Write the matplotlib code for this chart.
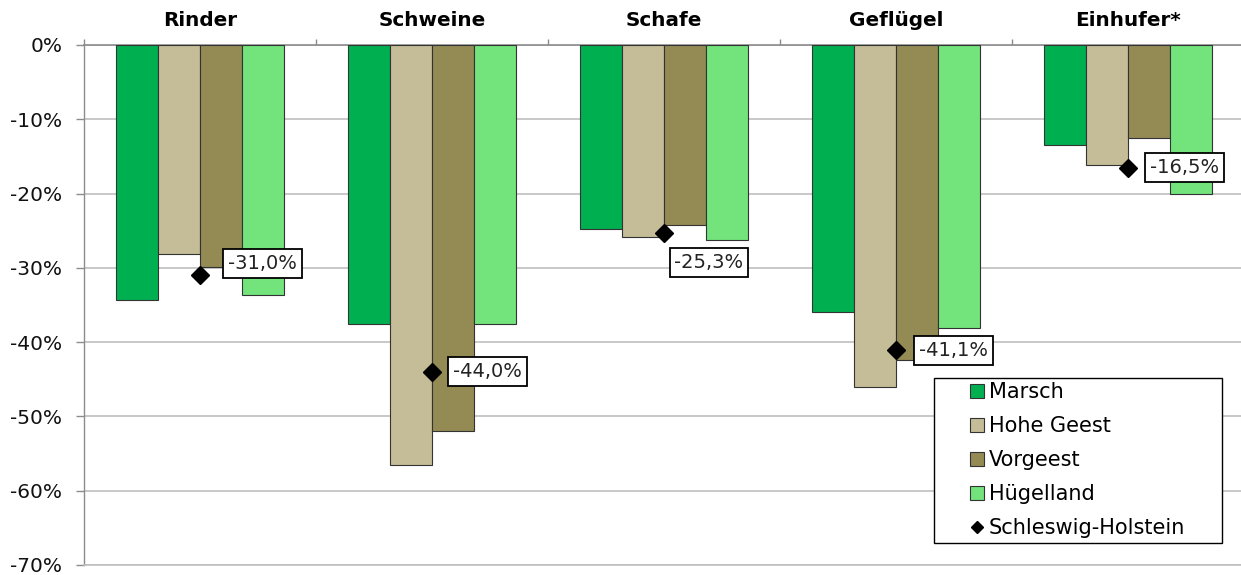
import numpy as np
import matplotlib
matplotlib.use("Agg")
import matplotlib.pyplot as plt
from matplotlib.patches import Rectangle
from matplotlib.ticker import FixedLocator, FuncFormatter

# ---- data ----
categories = ["Rinder", "Schweine", "Schafe", "Geflügel", "Einhufer*"]
series_names = ["Marsch", "Hohe Geest", "Vorgeest", "Hügelland"]
marsch = [-34.3, -37.6, -24.8, -36.0, -13.5]
hohe_geest = [-28.2, -56.6, -25.9, -46.1, -16.1]
vorgeest = [-29.9, -52.0, -24.2, -42.4, -12.5]
huegelland = [-33.6, -37.6, -26.2, -38.1, -20.0]
sh_name = "Schleswig-Holstein"
schleswig_holstein = [-31.0, -44.0, -25.3, -41.1, -16.5]
yticks = [0, -10, -20, -30, -40, -50, -60, -70]
ytick_labels = ["0%", "-10%", "-20%", "-30%", "-40%", "-50%", "-60%", "-70%"]

# ---- style ----
colors = ["#00B050", "#C4BD97", "#948A54", "#72E47B"]
grid_col = "#BFBFBF"
axis_col = "#8C8C8C"
edge_col = "#333333"
# annotation offsets (points) relative to diamond marker
label_offsets = [(20, 8.5), (15, 0), (7.5, -21.5), (16.5, 0), (16, 0)]

W, H = 1241, 575
fig = plt.figure(figsize=(W / 100, H / 100), dpi=100)
plt.rcParams["font.family"] = ["DejaVu Sans"]

ax_left, ax_right = 84, 1244
ax_top, ax_bot = 45, 565
ax = fig.add_axes([ax_left / W, 1 - ax_bot / H, (ax_right - ax_left) / W, (ax_bot - ax_top) / H])

x = np.arange(len(categories))
bw = 0.182
series = [marsch, hohe_geest, vorgeest, huegelland]
bar_handles = []
for i, (vals, name, c) in enumerate(zip(series, series_names, colors)):
    b = ax.bar(x + (i - 1.5) * bw, vals, width=bw, color=c, edgecolor=edge_col,
               linewidth=0.8, label=name, zorder=3)
    bar_handles.append(b)

sh_line, = ax.plot(x, schleswig_holstein, linestyle="none", marker="D", ms=9,
                   color="black", label=sh_name, zorder=5)

for xi, v, off in zip(x, schleswig_holstein, label_offsets):
    txt = f"{v:.1f}".replace(".", ",") + "%"
    ax.annotate(txt, (xi, v), xytext=off, textcoords="offset points",
                ha="left", va="center", fontsize=14, color="#222222", zorder=6,
                bbox=dict(boxstyle="square,pad=0.25", fc="white", ec="black", lw=1.3))

ax.set_xlim(-0.5, len(categories) - 0.5)
ax.set_ylim(-70, 0)

# y axis
ax.yaxis.set_major_locator(FixedLocator(yticks))
ax.yaxis.set_major_formatter(FuncFormatter(lambda v, p: ytick_labels[yticks.index(int(round(v)))]))
ax.tick_params(axis="y", length=5.5, width=1, color=axis_col, pad=10, labelsize=14.5, labelcolor="#111111")
ax.yaxis.grid(True, color=grid_col, linewidth=1.2, zorder=0)
ax.set_axisbelow(True)

# x axis on top with category titles
ax.xaxis.tick_top()
ax.set_xticks(x)
ax.set_xticklabels(categories, fontsize=14.4, fontweight="bold")
ax.set_xticks(np.arange(len(categories) + 1) - 0.5, minor=True)
ax.tick_params(axis="x", which="major", length=0, pad=10.5)
ax.tick_params(axis="x", which="minor", length=4.5, width=1, color=axis_col, direction="out", top=True, bottom=False)

ax.spines["right"].set_visible(False)
ax.spines["left"].set_color(axis_col)
ax.spines["left"].set_linewidth(1.0)
ax.spines["top"].set_color(axis_col)
ax.spines["top"].set_linewidth(1.2)
ax.spines["bottom"].set_color(grid_col)
ax.spines["bottom"].set_linewidth(1.2)

# legend with framed box
rect = Rectangle((934 / W, 1 - 543 / H), 288 / W, 165 / H, transform=fig.transFigure,
                 facecolor="white", edgecolor="black", linewidth=1.0, zorder=3)
fig.patches.append(rect)
handles = bar_handles + [sh_line]
labels = series_names + [sh_name]
leg = fig.legend(handles, labels, loc="upper left", bbox_to_anchor=(970 / W, 1 - 382 / H),
                 frameon=False, fontsize=15, handlelength=0.65, handleheight=0.65,
                 handletextpad=0.26, labelspacing=0.67, borderpad=0, borderaxespad=0,
                 markerscale=0.68)
leg.set_zorder(5)

fig.savefig("out.png", dpi=100)
